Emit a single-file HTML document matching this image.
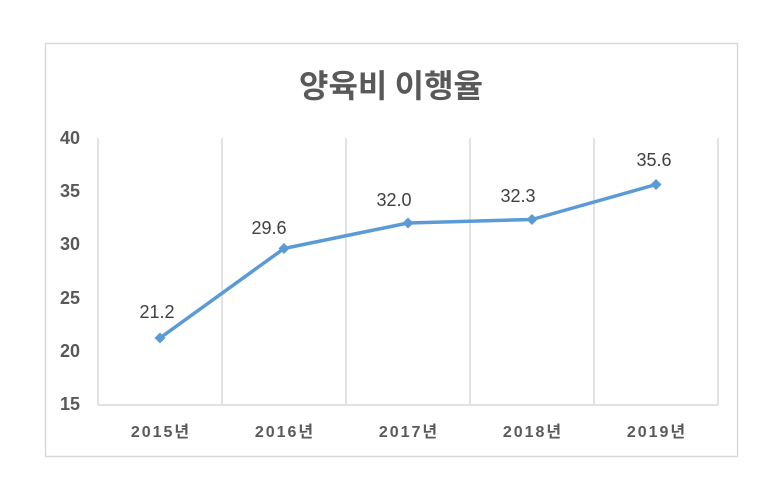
<!DOCTYPE html>
<html><head><meta charset="utf-8"><style>
body{margin:0;background:#fff;}
svg{display:block;font-family:"Liberation Sans","Noto Sans CJK KR",sans-serif;}
</style></head><body>
<svg width="773" height="483" viewBox="0 0 773 483">
<rect x="45.5" y="43.5" width="692" height="413" fill="#fff" stroke="#d9d9d9" stroke-width="1.5"/>
<text x="391" y="97" text-anchor="middle" font-size="32" font-weight="bold" fill="#595959" font-family="'Noto Sans CJK KR',sans-serif">양육비 이행율</text>
<g stroke="#d9d9d9" stroke-width="1.5">
<line x1="98" y1="138" x2="98" y2="405"/>
<line x1="222" y1="138" x2="222" y2="405"/>
<line x1="346" y1="138" x2="346" y2="405"/>
<line x1="470" y1="138" x2="470" y2="405"/>
<line x1="594" y1="138" x2="594" y2="405"/>
<line x1="718" y1="138" x2="718" y2="405"/>
<line x1="98" y1="405" x2="718" y2="405"/>
</g>
<g font-size="18" font-weight="bold" fill="#595959" text-anchor="end">
<text x="80" y="144">40</text>
<text x="80" y="197">35</text>
<text x="80" y="250">30</text>
<text x="80" y="304">25</text>
<text x="80" y="357">20</text>
<text x="80" y="410">15</text>
</g>
<g font-size="16" font-weight="bold" fill="#595959" text-anchor="middle" letter-spacing="2">
<text x="161" y="437">2015년</text>
<text x="285" y="437">2016년</text>
<text x="409" y="437">2017년</text>
<text x="533" y="437">2018년</text>
<text x="657" y="437">2019년</text>
</g>
<polyline points="160,338 284,248.5 408,223 532,219.5 656,184.5" fill="none" stroke="#5b9bd5" stroke-width="3.5" stroke-linejoin="round"/>
<g fill="#5b9bd5">
<path d="M160,332.5 L165.5,338 L160,343.5 L154.5,338Z"/>
<path d="M284,243 L289.5,248.5 L284,254 L278.5,248.5Z"/>
<path d="M408,217.5 L413.5,223 L408,228.5 L402.5,223Z"/>
<path d="M532,214 L537.5,219.5 L532,225 L526.5,219.5Z"/>
<path d="M656,179 L661.5,184.5 L656,190 L650.5,184.5Z"/>
</g>
<g font-size="18" fill="#404040" text-anchor="middle">
<text x="157" y="318">21.2</text>
<text x="269" y="234">29.6</text>
<text x="394" y="206">32.0</text>
<text x="518" y="202">32.3</text>
<text x="654" y="166">35.6</text>
</g>
</svg>
</body></html>
